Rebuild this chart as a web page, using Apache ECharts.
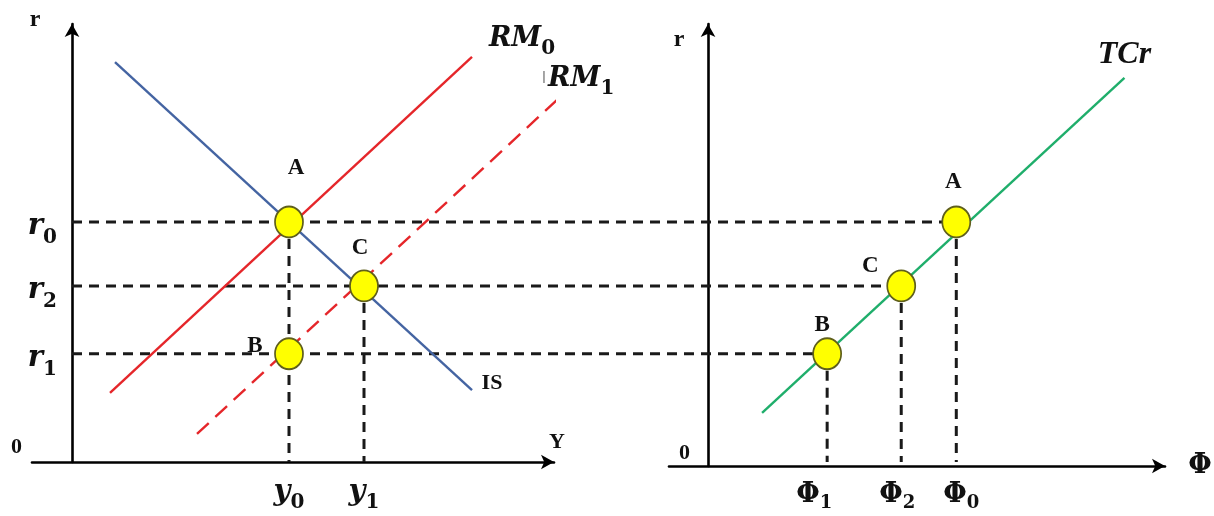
<!DOCTYPE html>
<html>
<head>
<meta charset="utf-8">
<script src="https://cdn.jsdelivr.net/npm/echarts@6/dist/echarts.min.js"></script>
<style>
  html, body { margin: 0; padding: 0; background: #fff; }
  #chart { width: 1214px; height: 516px; }
</style>
</head>
<body>
<div id="chart"></div>
<script>
// ---- interest-rate levels (shared by both panels) ----
const rNames  = ['0', '2', '1'];          // r0, r2, r1
const rValues = [5.48, 4.02, 2.47];

// ---- income levels (left panel) ----
const yNames  = ['0', '1'];               // y0, y1
const yValues = [4.34, 5.84];

// ---- Φ levels (right panel) ----
const phiNames  = ['1', '2', '0'];        // Φ1, Φ2, Φ0
const phiValues = [2.38, 3.86, 4.96];

// ---- curves: end points [x, r] ----
const isCurve  = [[0.86, 9.13], [8.00, 1.64]];
const rm0Curve = [[0.76, 1.58], [8.00, 9.25]];
const rm1Curve = [[2.50, 0.64], [9.74, 8.31]];
const tcrCurve = [[1.08, 1.12], [8.32, 8.77]];

// ---- equilibrium points ----
const leftPointNames = ['A', 'C', 'B'];
const leftPointY     = [4.34, 5.84, 4.34];
const leftPointR     = [5.48, 4.02, 2.47];
const rightPointNames = ['A', 'C', 'B'];
const rightPointPhi   = [4.96, 3.86, 2.38];
const rightPointR     = [5.48, 4.02, 2.47];

// ---- styling ----
const BLUE = '#4464a2', RED = '#e5262a', GREEN = '#1fae6b';
const INK = '#111';
const pointLabelOffsets = {
  left:  { A: [7, -54], C: [-4, -38], B: [-34, -8] },
  right: { A: [-3, -40], C: [-31, -20], B: [-5, -29] }
};
// horizontal nudge of each Φ tick label (px, + = right)
const phiLabelShift = [-13, -4, 5];

const SERIF_MATH = 'DejaVu Serif';
// Rich-text pieces: an empty spacer sets the line height; letter and subscript
// are both bottom-aligned, and the letter's bottom padding lifts it above the
// subscript.
const mathRich = {
  z:  { width: 0, height: 51, lineHeight: 51 },
  zp: { width: 0, height: 46, lineHeight: 46 },
  i: { fontFamily: SERIF_MATH, fontStyle: 'italic', fontWeight: 'bold', fontSize: 29, color: INK,
       verticalAlign: 'bottom', lineHeight: 40, padding: [0, 0, 6.5, 0] },
  s: { fontFamily: SERIF_MATH, fontWeight: 'bold', fontSize: 20, color: INK, verticalAlign: 'bottom', lineHeight: 20 },
  b: { fontFamily: SERIF_MATH, fontStyle: 'italic', fontWeight: 'bold', fontSize: 27, color: INK,
       verticalAlign: 'bottom', lineHeight: 40, padding: [0, 0, 6.5, 0] },
  g: { fontFamily: 'DejaVu Sans', fontSize: 15, color: '#8a8a8a', verticalAlign: 'bottom', lineHeight: 40, padding: [0, 2, 12, 0] },
  o: { fontFamily: 'Liberation Serif', fontWeight: 'bold', fontSize: 22, color: INK, lineHeight: 22, padding: [0, 35, 30, 0] },
  o2: { fontFamily: 'Liberation Serif', fontWeight: 'bold', fontSize: 22, color: INK, lineHeight: 22, padding: [0, 0, 18, 0] }
};
// Φ labels: one rich style pair per label so each can be nudged sideways
phiLabelShift.forEach((d, k) => {
  mathRich['p' + k] = { fontFamily: SERIF_MATH, fontWeight: 'bold', fontSize: 27, color: INK,
                        verticalAlign: 'bottom', lineHeight: 33, padding: [0, 0, 3.5, Math.max(0, 2 * d)] };
  mathRich['q' + k] = { fontFamily: SERIF_MATH, fontWeight: 'bold', fontSize: 18, color: INK,
                        verticalAlign: 'bottom', lineHeight: 20, padding: [0, Math.max(0, -2 * d), 0, 0] };
});
const plainBold = { fontFamily: 'Liberation Serif', fontWeight: 'bold', fontSize: 22, color: INK };

function axisLine(onZero) {
  return {
    show: true, onZero: onZero,
    symbol: ['none', 'arrow'], symbolSize: [11, 13],
    lineStyle: { color: '#000', width: 2.6 }
  };
}

function nearestIndex(arr, v) {
  let best = 0;
  arr.forEach((a, i) => { if (Math.abs(a - v) < Math.abs(arr[best] - v)) best = i; });
  return best;
}

function curveSeries(id, pts, axisIdx, color, dash, labelText, labelOffset, labelStyle) {
  return {
    id: id, type: 'line', xAxisIndex: axisIdx, yAxisIndex: axisIdx,
    data: pts.map((p, i) => i === pts.length - 1
      ? { value: p, label: Object.assign({ show: true, position: 'inside', offset: labelOffset, formatter: labelText }, labelStyle) }
      : { value: p }),
    symbol: 'circle', symbolSize: 0, showSymbol: true,
    itemStyle: { color: color },
    lineStyle: { color: color, width: 2.4, type: dash || 'solid' },
    clip: false, silent: true, animation: false, z: 3
  };
}

function guideSeries(id, a, b, axisIdx) {
  return {
    id: id, type: 'line', xAxisIndex: axisIdx, yAxisIndex: axisIdx,
    data: [a, b], symbol: 'none', clip: false, silent: true, animation: false, z: 2,
    lineStyle: { color: '#1a1a1a', width: 3, type: [10, 7] }
  };
}

function pointSeries(id, axisIdx, names, xs, rs, offsets) {
  return {
    id: id, type: 'scatter', xAxisIndex: axisIdx, yAxisIndex: axisIdx,
    data: names.map((n, i) => ({ name: n, value: [xs[i], rs[i]], label: { offset: offsets[n] } })),
    symbol: 'circle', symbolSize: [28, 31],
    itemStyle: { color: '#ffff00', borderColor: '#5f5f1c', borderWidth: 1.8, opacity: 1 },
    label: { show: true, position: 'inside', formatter: p => p.name,
             fontFamily: 'Liberation Serif', fontWeight: 'bold', fontSize: 23, color: INK },
    silent: true, animation: false, z: 10
  };
}

const series = [];
// left panel curves
series.push(curveSeries('IS', isCurve, 0, BLUE, null, 'IS', [20, -7], plainBold));
series.push(curveSeries('RM0', rm0Curve, 0, RED, null, '{b|RM}{s|0}', [50, -18], { rich: mathRich }));
series.push(curveSeries('RM1', rm1Curve, 0, RED, [16, 9], '{g|I}{b|RM}{s|1}', [19, -19], { rich: mathRich }));
// right panel curve
series.push(curveSeries('TCr', tcrCurve, 1, GREEN, null, 'TCr', [0, -23],
  { fontFamily: 'Liberation Serif', fontWeight: 'bold', fontStyle: 'italic', fontSize: 32, color: INK }));

// horizontal guides across both panels (overlay grid; ends set once laid out)
rValues.forEach((r, i) => series.push(guideSeries('hguide' + i, [0, r], [0, r], 2)));
// vertical guides, left panel: one drop line per income level, from its highest point
yValues.forEach((y, k) => {
  const top = Math.max.apply(null, leftPointR.filter((r, i) => leftPointY[i] === y));
  series.push(guideSeries('lv' + k, [y, top], [y, 0], 0));
});
// vertical guides, right panel
rightPointNames.forEach((n, i) => series.push(guideSeries('rv' + i, [rightPointPhi[i], rightPointR[i]], [rightPointPhi[i], 0], 1)));

series.push(pointSeries('leftPts', 0, leftPointNames, leftPointY, leftPointR, pointLabelOffsets.left));
series.push(pointSeries('rightPts', 1, rightPointNames, rightPointPhi, rightPointR, pointLabelOffsets.right));

const hiddenAxis = { show: false, splitLine: { show: false } };

const option = {
  backgroundColor: '#ffffff',
  animation: false,
  grid: [
    { left: 32, top: 24, width: 522, height: 438, outerBoundsMode: 'none', containLabel: false },
    { left: 669, top: 24, width: 496, height: 442, outerBoundsMode: 'none', containLabel: false },
    // overlay spanning both panels, same r scale as the left panel
    { left: 0, top: 24, width: 1214, height: 438, outerBoundsMode: 'none', containLabel: false }
  ],
  xAxis: [
    {
      type: 'value', gridIndex: 0, min: -0.8, max: 9.64,
      axisLine: axisLine(true), axisTick: { show: false }, splitLine: { show: false },
      axisLabel: {
        customValues: yValues, margin: 0, rich: mathRich,
        formatter: v => '{z|}{i|y}{s|' + yNames[nearestIndex(yValues, v)] + '}'
      },
      name: '{n|Y}', nameLocation: 'end', nameGap: 3,
      nameTextStyle: { align: 'center', verticalAlign: 'middle',
        rich: { n: Object.assign({ padding: [0, 0, 40, 0] }, plainBold) } }
    },
    {
      type: 'value', gridIndex: 1, min: -0.78, max: 9.13,
      axisLine: axisLine(false), axisTick: { show: false }, splitLine: { show: false },
      axisLabel: {
        customValues: phiValues, margin: 0, rich: mathRich,
        formatter: v => { const k = nearestIndex(phiValues, v); return '{zp|}{p' + k + '|Φ}{q' + k + '|' + phiNames[k] + '}'; }
      },
      name: 'Φ', nameLocation: 'end', nameGap: 35,
      nameTextStyle: { fontFamily: SERIF_MATH, fontWeight: 'bold', fontSize: 27, color: INK, align: 'center', verticalAlign: 'middle' }
    },
    Object.assign({ type: 'value', gridIndex: 2, min: 0, max: 100 }, hiddenAxis)
  ],
  yAxis: [
    {
      type: 'value', gridIndex: 0, min: 0, max: 10,
      axisLine: axisLine(true), axisTick: { show: false }, splitLine: { show: false },
      axisLabel: {
        customValues: [0].concat(rValues), margin: -25, rich: mathRich,
        formatter: v => v === 0 ? '{o|0}' : '{z|}{i|r}{s|' + rNames[nearestIndex(rValues, v)] + '}'
      },
      name: 'r', nameLocation: 'end', nameGap: -8,
      nameTextStyle: Object.assign({ padding: [0, 74, 0, 0] }, plainBold, { fontSize: 24 })
    },
    {
      type: 'value', gridIndex: 1, min: -0.0913, max: 10,
      axisLine: axisLine(true), axisTick: { show: false }, splitLine: { show: false },
      axisLabel: { customValues: [0], margin: -21, rich: mathRich, formatter: () => '{o2|0}' },
      name: 'r', nameLocation: 'end', nameGap: -28,
      nameTextStyle: Object.assign({ padding: [0, 58, 0, 0] }, plainBold, { fontSize: 24 })
    },
    Object.assign({ type: 'value', gridIndex: 2, min: 0, max: 10 }, hiddenAxis)
  ],
  series: series
};

const chart = echarts.init(document.getElementById('chart'), null, { renderer: 'canvas' });
chart.setOption(option);

// each horizontal guide runs from the left r-axis to its point in the right panel
const leftFinder = { xAxisIndex: 0, yAxisIndex: 0 };
const rightFinder = { xAxisIndex: 1, yAxisIndex: 1 };
const overlayFinder = { xAxisIndex: 2, yAxisIndex: 2 };
const hUpdates = rValues.map((r, i) => {
  const startPx = chart.convertToPixel(leftFinder, [0, r]);
  const endPx = chart.convertToPixel(rightFinder, [rightPointPhi[i], rightPointR[i]]);
  const x0 = chart.convertFromPixel(overlayFinder, startPx)[0];
  const x1 = chart.convertFromPixel(overlayFinder, [endPx[0], startPx[1]])[0];
  return { id: 'hguide' + i, data: [[x0, r], [x1, r]] };
});
chart.setOption({ series: hUpdates });
</script>
</body>
</html>
